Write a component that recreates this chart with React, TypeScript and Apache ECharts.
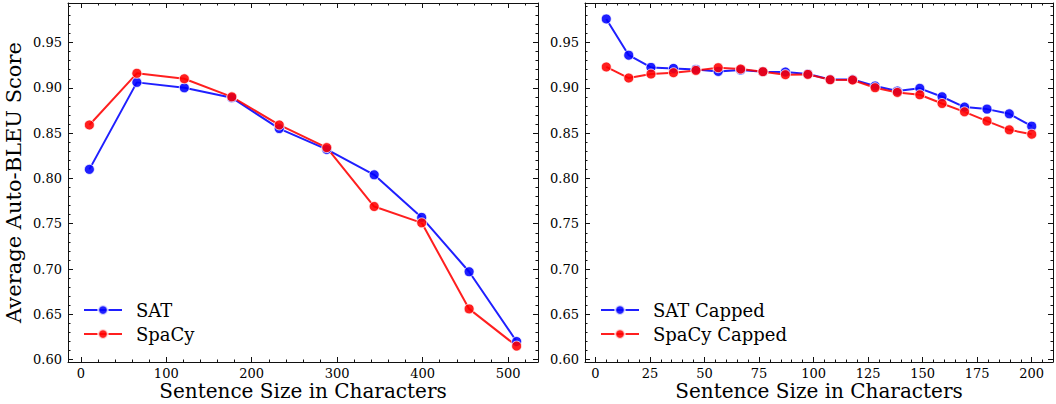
import React, { useEffect, useRef } from "react";
import * as echarts from "echarts";

// ---- Data ----
const sizeX = [10, 65.6, 121.1, 176.7, 232.2, 287.8, 343.3, 398.9, 454.4, 510];
const satY = [0.81, 0.906, 0.9, 0.889, 0.855, 0.832, 0.804, 0.757, 0.697, 0.62];
const spacyY = [0.859, 0.916, 0.91, 0.89, 0.859, 0.834, 0.769, 0.751, 0.656, 0.615];

const cappedX = [5, 15.3, 25.5, 35.8, 46.1, 56.3, 66.6, 76.8, 87.1, 97.4, 107.6, 117.9, 128.2, 138.4, 148.7, 158.9, 169.2, 179.5, 189.7, 200];
const satCappedY = [0.976, 0.936, 0.9225, 0.9214, 0.9203, 0.9181, 0.9196, 0.9178, 0.9174, 0.9152, 0.9092, 0.9092, 0.902, 0.8964, 0.8994, 0.8901, 0.8787, 0.8765, 0.8713, 0.8577];
const spacyCappedY = [0.923, 0.9108, 0.9152, 0.9167, 0.9192, 0.9222, 0.9207, 0.9178, 0.9145, 0.9148, 0.9089, 0.9086, 0.9001, 0.8949, 0.8923, 0.8827, 0.8735, 0.8633, 0.8536, 0.8488];

const leftXTicks = [0, 100, 200, 300, 400, 500];
const rightXTicks = [0, 25, 50, 75, 100, 125, 150, 175, 200];
const yTicks = [0.6, 0.65, 0.7, 0.75, 0.8, 0.85, 0.9, 0.95];

const seriesNames = ["SAT", "SpaCy", "SAT Capped", "SpaCy Capped"];
const xTitle = "Sentence Size in Characters";
const yTitle = "Average Auto-BLEU Score";

// ---- Styling ----
const FONT = "DejaVu Serif";
const BLUE = "rgba(0,0,255,0.88)";
const RED = "rgba(255,0,0,0.88)";
const LEFT_X = { min: -15, max: 535 };
const RIGHT_X = { min: -4.75, max: 209.75 };
const Y_RANGE = { min: 0.5974, max: 0.9936 };

function range(start: number, end: number, step: number): number[] {
  const out: number[] = [];
  for (let i = 0; start + i * step <= end + 1e-9; i++) {
    out.push(Math.round((start + i * step) * 1e6) / 1e6);
  }
  return out;
}

const leftXMinor = range(0, 520, 20);
const rightXMinor = range(0, 205, 5);
const yMinor = range(0.6, 0.99, 0.01);

function axis(
  gridIndex: number,
  position: string,
  r: { min: number; max: number },
  ticks: number[],
  tickLen: number,
  labels: boolean,
  line: boolean,
  fmt: (v: number) => string,
  name?: string,
  nameGap?: number,
  nameSize?: number
) {
  const a: any = {
    type: "value",
    gridIndex,
    position,
    min: r.min,
    max: r.max,
    axisLine: { show: line, onZero: false, lineStyle: { color: "#111", width: 1 } },
    axisTick: {
      show: true,
      inside: true,
      length: tickLen,
      customValues: ticks,
      lineStyle: { color: "#111", width: 1 },
    },
    axisLabel: {
      show: labels,
      customValues: labels ? ticks : undefined,
      margin: position === "left" ? 6 : 5,
      fontFamily: FONT,
      fontSize: 13,
      color: "#000",
      formatter: fmt,
    },
    splitLine: { show: false },
  };
  if (name) {
    a.name = name;
    a.nameLocation = "middle";
    a.nameGap = nameGap;
    a.nameMoveOverlap = false;
    a.nameTextStyle = { fontFamily: FONT, fontSize: nameSize, lineHeight: nameSize, color: "#000" };
  }
  return a;
}

export default function App() {
  const ref = useRef<HTMLDivElement>(null);

  useEffect(() => {
    document.body.style.margin = "0";
    if (!ref.current) return;
    const chart = echarts.init(ref.current, null, { renderer: "svg" });

    const fx = (v: number) => String(v);
    const fy = (v: number) => v.toFixed(2);

    const gridL = { left: 68, top: 3, width: 470, height: 359, containLabel: false, outerBoundsMode: "none" };
    const gridR = { left: 585, top: 3, width: 468, height: 359, containLabel: false, outerBoundsMode: "none" };

    const xAxes = [
      axis(0, "bottom", LEFT_X, leftXTicks, 5, true, true, fx, xTitle, 19, 20),
      axis(0, "top", LEFT_X, leftXTicks, 5, false, true, fx),
      axis(1, "bottom", LEFT_X, leftXMinor, 2.5, false, false, fx),
      axis(1, "top", LEFT_X, leftXMinor, 2.5, false, false, fx),
      axis(2, "bottom", RIGHT_X, rightXTicks, 5, true, true, fx, xTitle, 19, 20),
      axis(2, "top", RIGHT_X, rightXTicks, 5, false, true, fx),
      axis(3, "bottom", RIGHT_X, rightXMinor, 2.5, false, false, fx),
      axis(3, "top", RIGHT_X, rightXMinor, 2.5, false, false, fx),
    ];
    const yAxes = [
      axis(0, "left", Y_RANGE, yTicks, 5, true, true, fy, yTitle, 44, 21),
      axis(0, "right", Y_RANGE, yTicks, 5, false, true, fy),
      axis(1, "left", Y_RANGE, yMinor, 2.5, false, false, fy),
      axis(1, "right", Y_RANGE, yMinor, 2.5, false, false, fy),
      axis(2, "left", Y_RANGE, yTicks, 5, true, true, fy),
      axis(2, "right", Y_RANGE, yTicks, 5, false, true, fy),
      axis(3, "left", Y_RANGE, yMinor, 2.5, false, false, fy),
      axis(3, "right", Y_RANGE, yMinor, 2.5, false, false, fy),
    ];

    const mkSeries = (name: string, xs: number[], ys: number[], color: string, axisIdx: number) => ({
      name,
      type: "line",
      xAxisIndex: axisIdx,
      yAxisIndex: axisIdx,
      data: xs.map((x, i) => [x, ys[i]]),
      symbol: "circle",
      symbolSize: 10,
      showSymbol: true,
      lineStyle: { color, width: 2 },
      itemStyle: { color, borderColor: "rgba(255,255,255,0.75)", borderWidth: 1 },
      emphasis: { disabled: true },
    });

    const legendBase = {
      orient: "vertical",
      padding: 0,
      itemWidth: 38,
      itemHeight: 12,
      itemGap: 4,
      textStyle: { fontFamily: FONT, fontSize: 18, color: "#000", lineHeight: 20, padding: [0, 0, 0, 9] },
    };

    chart.setOption({
      animation: false,
      backgroundColor: "#fff",
      grid: [gridL, gridL, gridR, gridR],
      xAxis: xAxes,
      yAxis: yAxes,
      legend: [
        { ...legendBase, left: 83, top: 300, data: [seriesNames[0], seriesNames[1]] },
        { ...legendBase, left: 600, top: 300, data: [seriesNames[2], seriesNames[3]] },
      ],
      series: [
        mkSeries(seriesNames[0], sizeX, satY, BLUE, 0),
        mkSeries(seriesNames[1], sizeX, spacyY, RED, 0),
        mkSeries(seriesNames[2], cappedX, satCappedY, BLUE, 4),
        mkSeries(seriesNames[3], cappedX, spacyCappedY, RED, 4),
      ],
    });

    return () => chart.dispose();
  }, []);

  return <div ref={ref} style={{ width: 1056, height: 404 }} />;
}
